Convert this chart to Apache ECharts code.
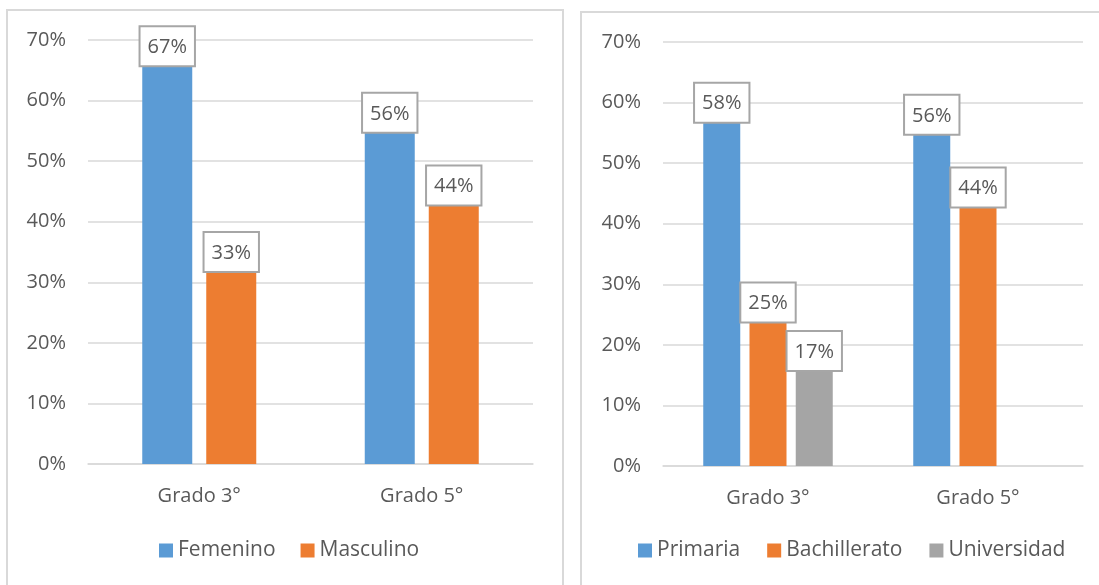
<!DOCTYPE html>
<html>
<head>
<meta charset="utf-8">
<script src="https://cdn.jsdelivr.net/npm/echarts@6/dist/echarts.min.js"></script>
<style>
html,body{margin:0;padding:0;background:#fff;}
#c{width:1099px;height:585px;}
</style>
</head>
<body>
<div id="c"></div>
<script>
var categories = ['Grado 3°', 'Grado 5°'];
var femenino = [0.67, 0.56];
var masculino = [0.33, 0.44];
var primaria = [0.58, 0.56];
var bachillerato = [0.25, 0.44];
var universidad = [0.17, null];
var yTicks = [0, 0.1, 0.2, 0.3, 0.4, 0.5, 0.6, 0.7];

var FONT = 'Open Sans';
var TXT = '#595959';
var pct = function (v) { return Math.round(v * 100) + '%'; };

function lbl() {
  return {
    show: true, position: 'top', distance: -7,
    formatter: function (p) { return pct(p.value); },
    color: TXT, fontFamily: FONT, fontSize: 20,
    backgroundColor: '#fff', borderColor: '#a6a6a6', borderWidth: 2,
    padding: [8, 7, 6, 7], lineHeight: 24
  };
}
function yAxis(gi) {
  return {
    type: 'value', gridIndex: gi, min: 0, max: 0.7, interval: 0.1,
    axisLabel: { formatter: function (v) { return pct(v); }, color: TXT, fontFamily: FONT, fontSize: 20, margin: 22 },
    splitLine: { lineStyle: { color: '#d9d9d9', width: 1.5 } },
    axisLine: { show: false }, axisTick: { show: false }
  };
}
function xAxis(gi, m) {
  return {
    type: 'category', gridIndex: gi, data: categories,
    axisLabel: { color: TXT, fontFamily: FONT, fontSize: 20, margin: m },
    axisLine: { lineStyle: { color: '#d9d9d9', width: 1.5 } },
    axisTick: { show: false }
  };
}

var chart = echarts.init(document.getElementById('c'));
chart.setOption({
  animation: false,
  textStyle: { fontFamily: FONT },
  graphic: [
    { type: 'rect', shape: { x: 7, y: 10, width: 556, height: 600 }, style: { fill: 'none', stroke: '#d9d9d9', lineWidth: 2 } },
    { type: 'rect', shape: { x: 581, y: 12, width: 540, height: 600 }, style: { fill: 'none', stroke: '#d9d9d9', lineWidth: 2 } }
  ],
  grid: [
    { left: 88, right: 566, top: 40, bottom: 121 },
    { left: 663, right: 16, top: 42, bottom: 119 }
  ],
  legend: [
    { data: ['Femenino', 'Masculino'], left: 159, top: 540, padding: 0, icon: 'rect', itemWidth: 14, itemHeight: 14, itemGap: 25,
      textStyle: { color: TXT, fontFamily: FONT, fontSize: 21 } },
    { data: ['Primaria', 'Bachillerato', 'Universidad'], left: 638, top: 540, padding: 0, icon: 'rect', itemWidth: 14, itemHeight: 14, itemGap: 27,
      textStyle: { color: TXT, fontFamily: FONT, fontSize: 21 } }
  ],
  xAxis: [xAxis(0, 22), xAxis(1, 22)],
  yAxis: [yAxis(0), yAxis(1)],
  series: [
    { name: 'Femenino', type: 'bar', xAxisIndex: 0, yAxisIndex: 0, data: femenino, barWidth: 50, barGap: '28%', itemStyle: { color: '#5b9bd5' }, label: lbl() },
    { name: 'Masculino', type: 'bar', xAxisIndex: 0, yAxisIndex: 0, data: masculino, barWidth: 50, barGap: '28%', itemStyle: { color: '#ed7d31' }, label: lbl() },
    { name: 'Primaria', type: 'bar', xAxisIndex: 1, yAxisIndex: 1, data: primaria, barWidth: 37, barGap: '25%', itemStyle: { color: '#5b9bd5' }, label: lbl() },
    { name: 'Bachillerato', type: 'bar', xAxisIndex: 1, yAxisIndex: 1, data: bachillerato, barWidth: 37, barGap: '25%', itemStyle: { color: '#ed7d31' }, label: lbl() },
    { name: 'Universidad', type: 'bar', xAxisIndex: 1, yAxisIndex: 1, data: universidad, barWidth: 37, barGap: '25%', itemStyle: { color: '#a5a5a5' }, label: lbl() }
  ]
});
</script>
</body>
</html>
